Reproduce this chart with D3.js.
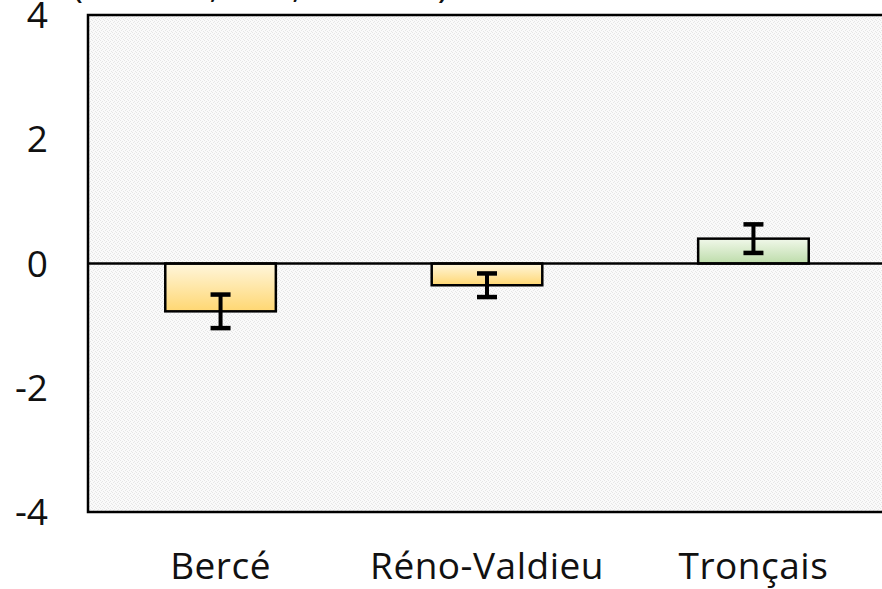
<!DOCTYPE html>
<html>
<head>
  <meta charset="utf-8">
  <title>Bar chart</title>
  <script src="https://cdn.jsdelivr.net/npm/d3@7"></script>
  <style>
    body{margin:0;background:#fff;}
    .tick-label{font-family:"Open Sans",sans-serif;font-size:37px;fill:#111;}
    .title{font-family:"Open Sans",sans-serif;font-size:37px;fill:#111;}
  </style>
</head>
<body>
<script>
// data
var sites = ["Bercé", "Réno-Valdieu", "Tronçais"];
var means = [-0.77, -0.35, 0.40];
var errors = [0.27, 0.19, 0.23];
var yTicks = [-4, -2, 0, 2, 4];
var fills = ["yellow", "yellow", "green"];

var width = 882, height = 589;
var margin = {left: 88, top: 15, right: -4, bottom: 77};

var svg = d3.select("body").append("svg")
  .attr("width", width)
  .attr("height", height);

var defs = svg.append("defs");
// textured background of the plot area
var pat = defs.append("pattern")
  .attr("id", "tex").attr("width", 4).attr("height", 4)
  .attr("patternUnits", "userSpaceOnUse");
pat.append("rect").attr("width", 4).attr("height", 4).attr("fill", "#fafafa");
[[0,0],[2,1],[1,2],[3,3]].forEach(function(p){
  pat.append("rect").attr("x", p[0]).attr("y", p[1]).attr("width", 1).attr("height", 1).attr("fill", "#e6e6e6");
});

var grads = {yellow: ["#fff6dc", "#ffd772"], green: ["#f1f8ea", "#bddcaa"]};
Object.keys(grads).forEach(function(k){
  var g = defs.append("linearGradient").attr("id", "g-" + k)
    .attr("x1", 0).attr("y1", 0).attr("x2", 0).attr("y2", 1);
  g.append("stop").attr("offset", "0%").attr("stop-color", grads[k][0]);
  g.append("stop").attr("offset", "100%").attr("stop-color", grads[k][1]);
});

var x = d3.scaleBand()
  .domain(sites)
  .range([margin.left, width - margin.right])
  .paddingInner(0.585)
  .paddingOuter(0.29);

var y = d3.scaleLinear()
  .domain([-4, 4])
  .range([height - margin.bottom, margin.top]);

// plot area
svg.append("rect")
  .attr("x", margin.left)
  .attr("y", y(4))
  .attr("width", width - margin.right - margin.left)
  .attr("height", y(-4) - y(4))
  .attr("fill", "url(#tex)")
  .attr("stroke", "#000")
  .attr("stroke-width", 2.5);

// partly hidden title
svg.append("text")
  .attr("class", "title")
  .attr("x", 72)
  .attr("y", -3)
  .text("(n = 120, 120, n = 120)");

// y axis labels
var yAxis = d3.axisLeft(y).tickValues(yTicks).tickSize(0).tickPadding(0)
  .tickFormat(function(d){ return String(d); });
var ya = svg.append("g")
  .attr("transform", "translate(" + 48 + ",0)")
  .call(yAxis);
ya.select(".domain").remove();
ya.selectAll("text")
  .attr("class", "tick-label")
  .attr("font-family", null).attr("font-size", null)
  .attr("dy", "0.34em");

// x axis labels
var xAxis = d3.axisBottom(x).tickSize(0).tickPadding(0);
var xa = svg.append("g")
  .attr("transform", "translate(0," + 579 + ")")
  .call(xAxis);
xa.select(".domain").remove();
xa.selectAll("text")
  .attr("class", "tick-label")
  .attr("font-family", null).attr("font-size", null)
  .attr("letter-spacing", "0.5px")
  .attr("dy", 0);

// bars
svg.selectAll(".bar")
  .data(sites)
  .enter().append("rect")
  .attr("class", "bar")
  .attr("x", function(d){ return x(d); })
  .attr("width", x.bandwidth())
  .attr("y", function(d, i){ return y(Math.max(0, means[i])); })
  .attr("height", function(d, i){ return Math.abs(y(means[i]) - y(0)); })
  .attr("fill", function(d, i){ return "url(#g-" + fills[i] + ")"; })
  .attr("stroke", "#000")
  .attr("stroke-width", 2.5);

// zero line
svg.append("line")
  .attr("x1", margin.left).attr("x2", width)
  .attr("y1", y(0)).attr("y2", y(0))
  .attr("stroke", "#000")
  .attr("stroke-width", 2.5);

// error bars
var eb = svg.selectAll(".err")
  .data(sites)
  .enter().append("g")
  .attr("class", "err")
  .attr("stroke", "#000");
eb.append("line")
  .attr("stroke-width", 4)
  .attr("x1", function(d){ return x(d) + x.bandwidth() / 2; })
  .attr("x2", function(d){ return x(d) + x.bandwidth() / 2; })
  .attr("y1", function(d, i){ return y(means[i] + errors[i]); })
  .attr("y2", function(d, i){ return y(means[i] - errors[i]); });
[1, -1].forEach(function(s){
  eb.append("line")
    .attr("stroke-width", 4.5)
    .attr("x1", function(d){ return x(d) + x.bandwidth() / 2 - 10; })
    .attr("x2", function(d){ return x(d) + x.bandwidth() / 2 + 10; })
    .attr("y1", function(d, i){ return y(means[i] + s * errors[i]); })
    .attr("y2", function(d, i){ return y(means[i] + s * errors[i]); });
});
</script>
</body>
</html>
